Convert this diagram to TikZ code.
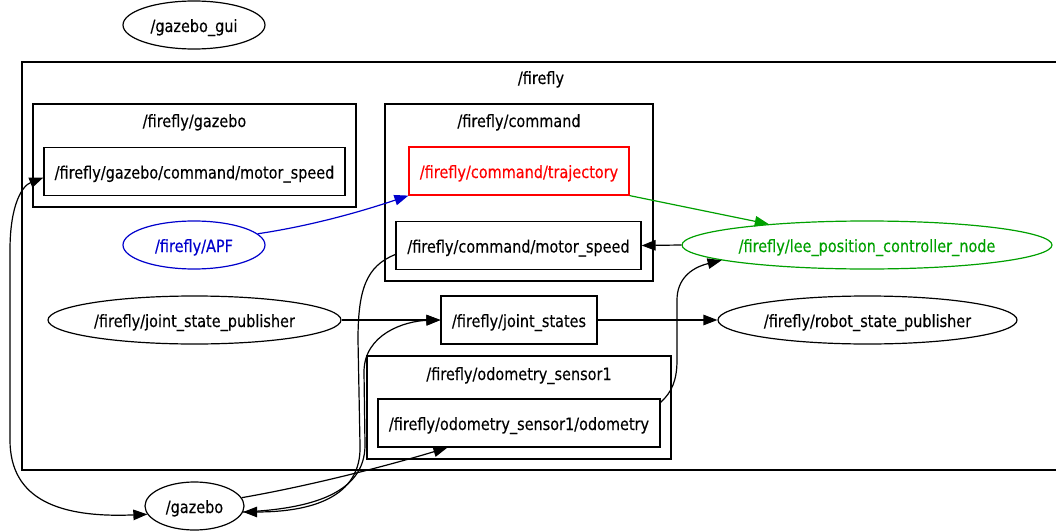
\documentclass[tikz,border=0pt]{standalone}
\usepackage{fontspec}
\setmainfont{DejaVu Sans}[FakeStretch=0.85, UprightFeatures={FakeBold=0.3}]
\usetikzlibrary{arrows.meta,shapes.geometric}
\definecolor{rosblue}{RGB}{0,0,204}
\definecolor{rosgreen}{RGB}{0,160,0}
\definecolor{rosred}{RGB}{255,0,0}
\begin{document}
\begin{tikzpicture}[x=1pt,y=-1pt,
  every node/.style={font=\fontsize{17}{20}\selectfont, inner sep=0pt,
    text height=16pt, text depth=2pt},
  topic/.style={draw, rectangle, line width=1.2pt, minimum height=48pt},
  rosnode/.style={draw, ellipse, line width=1.2pt, minimum height=48pt},
  group/.style={draw, line width=1.2pt},
  grouplabel/.style={anchor=center},
  link/.style={line width=1.2pt, -{Triangle[length=14pt,width=10.5pt]}},
  biglink/.style={line width=1.2pt, {Triangle[length=14pt,width=10.5pt]}-{Triangle[length=14pt,width=10.5pt]}}]
\useasboundingbox (0,0) rectangle (1056,532);
\clip (0,0) rectangle (1056,532);

% namespace boxes
\draw[group] (22,62) rectangle (1080,470);
\node[grouplabel] (lblfirefly) at (541,77) {/firefly};
\draw[group] (33,104) rectangle (356,207);
\node[grouplabel] (lblgazebo) at (194.5,120) {/firefly/gazebo};
\draw[group] (385,104) rectangle (653,281);
\node[grouplabel] (lblcommand) at (519,120) {/firefly/command};
\draw[group] (367,356) rectangle (671,459);
\node[grouplabel] (lblodom) at (519,373) {/firefly/odometry\_sensor1};

% ROS nodes
\node[rosnode, minimum width=142pt] (gui) at (194,25) {/gazebo\_gui};
\node[rosnode, draw=rosblue, text=rosblue, minimum width=142pt] (apf) at (194,245) {/firefly/APF};
\node[rosnode, draw=rosgreen, text=rosgreen, minimum width=370pt] (lee) at (867,245) {/firefly/lee\_position\_controller\_node};
\node[rosnode, minimum width=293pt] (jsp) at (194.5,320) {/firefly/joint\_state\_publisher};
\node[rosnode, minimum width=299pt] (rsp) at (867.5,320) {/firefly/robot\_state\_publisher};
\node[rosnode, minimum width=99pt] (gazebo) at (194.5,506) {/gazebo};

% topics
\node[topic, minimum width=301pt] (gzms) at (194.5,171.5) {/firefly/gazebo/command/motor\_speed};
\node[topic, draw=rosred, text=rosred, minimum width=220pt] (traj) at (519,171) {/firefly/command/trajectory};
\node[topic, minimum width=245pt] (cms) at (518.5,245.5) {/firefly/command/motor\_speed};
\node[topic, minimum width=156pt] (js) at (519,320) {/firefly/joint\_states};
\node[topic, minimum width=282pt] (odom) at (519,423) {/firefly/odometry\_sensor1/odometry};

% connections
\draw[biglink] (gazebo.190) .. controls (60,518) and (10,500) .. (10,440)
  -- (10,250) .. controls (10,205) and (22,186) .. ([yshift=-6pt]gzms.west);
\draw[link, rosblue] (apf.10) .. controls (310,226) and (360,212) .. (traj.south west);
\draw[link, rosgreen] (traj.south east) -- (lee.168);
\draw[link] (lee.west) -- (cms.east);
\draw[link] ([yshift=-9pt]cms.west) .. controls (366,266) and (358,290) .. (358,340)
  -- (360,445) .. controls (362,498) and (310,512) .. (gazebo.-7);
\draw[link] (gazebo.-7) .. controls (310,509) and (365,494) .. (365,445)
  -- (364,372) .. controls (364,334) and (405,321) .. (js.west);
\draw[link] (gazebo.10) .. controls (320,484) and (400,462) .. ([xshift=70pt]odom.south west);
\draw[link] (jsp.east) -- (js.west);
\draw[link] (js.east) -- (rsp.west);
\draw[link] ([yshift=-4pt]odom.north east) .. controls (672,392) and (677,380) .. (677,360)
  -- (677,300) .. controls (677,280) and (690,268) .. (lee.186);
\end{tikzpicture}
\end{document}
